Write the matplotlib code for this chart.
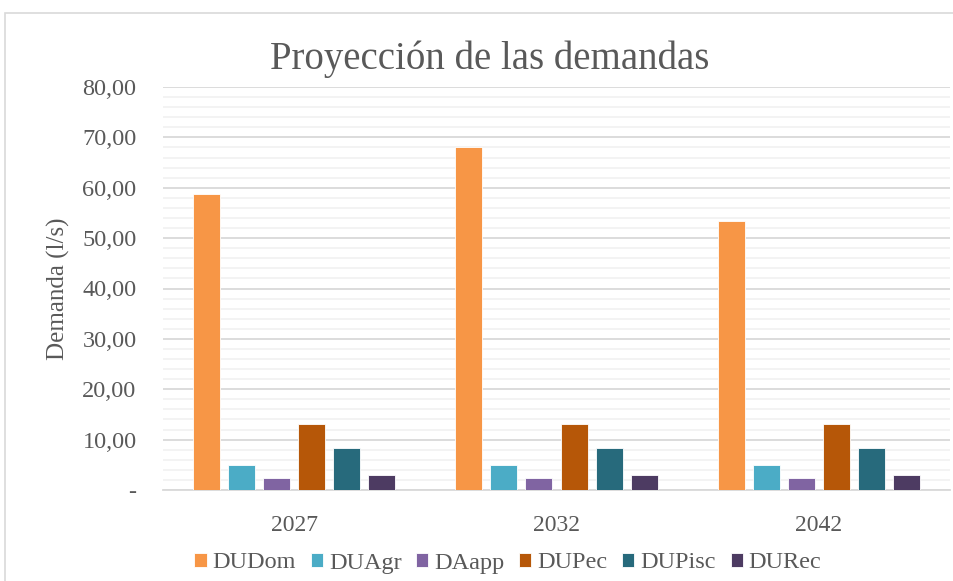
import numpy as np
import matplotlib.pyplot as plt
from matplotlib.patches import Rectangle
from matplotlib.ticker import MultipleLocator, FuncFormatter

# demand projection per use (l/s)
years = ["2027", "2032", "2042"]
series = ["DUDom", "DUAgr", "DAapp", "DUPec", "DUPisc", "DURec"]
du_dom = [58.8, 68.1, 53.4]
du_agr = [5.0, 5.0, 5.0]
da_app = [2.4, 2.4, 2.4]
du_pec = [13.1, 13.1, 13.1]
du_pisc = [8.3, 8.3, 8.3]
du_rec = [2.9, 2.9, 2.9]
colors = ["#F79646", "#4BACC6", "#8064A2", "#B65708", "#276A7C", "#4D3B62"]

values = [du_dom, du_agr, da_app, du_pec, du_pisc, du_rec]

plt.rcParams['font.family'] = ['Liberation Serif', 'DejaVu Serif']
text_color = "#595959"

fig = plt.figure(figsize=(9.54, 5.81), dpi=100)
ax = fig.add_axes([163/954, 91/581, 787/954, 403/581])

# outer chart frame
fig.patches.append(Rectangle((5/954, -0.1), 2, 0.9776 + 0.1, transform=fig.transFigure,
                             fill=False, edgecolor="#d9d9d9", linewidth=1.2, zorder=0))

x = np.arange(len(years))
slot = 0.1336
for j, (name, vals) in enumerate(zip(series, values)):
    ax.bar(x + (j - 2.5) * slot, vals, width=0.103, color=colors[j],
           edgecolor="white", linewidth=0.6, label=name, zorder=3)

ax.set_xlim(-0.5, 2.5)
ax.set_ylim(0, 80)
ax.yaxis.set_major_locator(MultipleLocator(10))
ax.yaxis.set_minor_locator(MultipleLocator(2))
ax.yaxis.set_major_formatter(FuncFormatter(
    lambda v, p: "-" if v == 0 else f"{v:.2f}".replace(".", ",")))
ax.grid(axis="y", which="major", color="#d9d9d9", linewidth=1.3, zorder=0)
ax.grid(axis="y", which="minor", color="#f2f2f2", linewidth=1.3, zorder=0)
ax.set_axisbelow(True)

ax.set_xticks(x)
ax.set_xticklabels(years)
ax.tick_params(axis="x", length=0, pad=18, labelsize=17, labelcolor=text_color)
ax.tick_params(axis="y", which="both", length=0, pad=19, labelsize=17.5, labelcolor=text_color)

for s in ["top", "right", "left"]:
    ax.spines[s].set_visible(False)
ax.spines["bottom"].set_color("#d9d9d9")
ax.spines["bottom"].set_linewidth(1.3)

ax.set_ylabel("Demanda (l/s)", fontsize=18, color=text_color, labelpad=9)
fig.text(490/954, (581-59)/581, "Proyección de las demandas", ha="center", va="center",
         fontsize=28, color=text_color)

fig.legend(loc="center", bbox_to_anchor=(508/954, 18/581), ncol=6, frameon=False,
           fontsize=17.5, labelcolor=text_color, handlelength=0.5, handleheight=0.5,
           handletextpad=0.25, columnspacing=0.6)

fig.savefig("out.png", dpi=100)
